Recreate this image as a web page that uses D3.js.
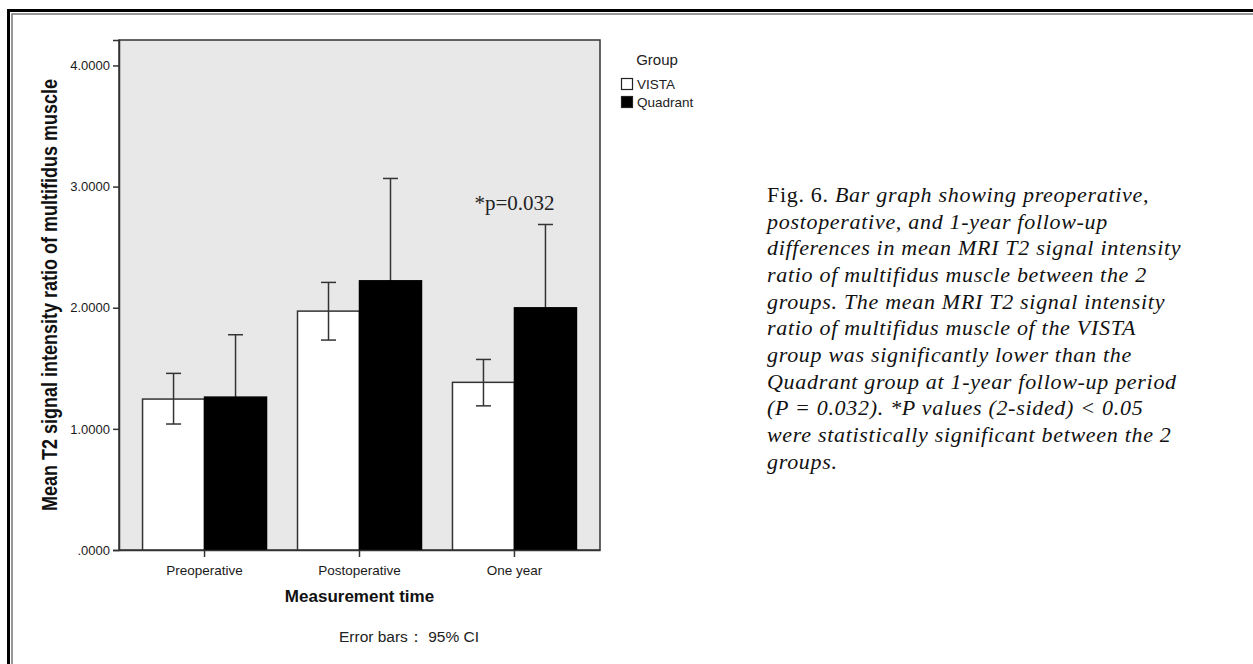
<!DOCTYPE html>
<html>
<head>
<meta charset="utf-8">
<script src="https://cdn.jsdelivr.net/npm/d3@7"></script>
<style>
  html, body { margin: 0; padding: 0; background: #fff; }
  svg { display: block; }
</style>
</head>
<body>
<div class="chart"></div>
<script>
// data
var categories = ["Preoperative", "Postoperative", "One year"];
var groups = ["VISTA", "Quadrant"];
var vistaMean  = [1.246, 1.972, 1.384];
var vistaLower = [1.040, 1.733, 1.190];
var vistaUpper = [1.458, 2.209, 1.573];
var quadMean   = [1.262, 2.222, 1.999];
var quadLower  = [0.747, 1.377, 1.311];
var quadUpper  = [1.777, 3.067, 2.687];
var yTicks = [0, 1, 2, 3, 4];
var captionLines = [
  "postoperative, and 1-year follow-up",
  "differences in mean MRI T2 signal intensity",
  "ratio of  multifidus muscle between the 2",
  "groups. The mean MRI T2 signal intensity",
  "ratio of  multifidus muscle of the VISTA",
  "group was significantly lower than the",
  "Quadrant group at 1-year follow-up period",
  "(P = 0.032). *P values (2-sided) < 0.05",
  "were statistically significant between the 2",
  "groups."
];

var width = 1253, height = 664;
var margin = { "top": 40, "bottom": 114, "left": 119, "right": 653 };
var sans = "'Liberation Sans', Arial, sans-serif";
var serif = "'Liberation Serif', 'Times New Roman', serif";

var svg = d3.select("div.chart").append("svg").attr("width", width).attr("height", height);

// outer frame (double line, top and left)
svg.append("path").attr("d", "M8.5,664 V10.5 H1253").attr("fill", "none").attr("stroke", "#000").attr("stroke-width", 3);
svg.append("path").attr("d", "M12,664 V14 H1253").attr("fill", "none").attr("stroke", "#777").attr("stroke-width", 1.5);

var x0 = d3.scaleBand().domain(categories)
  .range([margin.left, width - margin.right])
  .paddingInner(0.2).paddingOuter(0.152);
var x1 = d3.scaleBand().domain(groups).range([0, x0.bandwidth()]);
var yScale = d3.scaleLinear().domain([0, 4.21]).range([height - margin.bottom, margin.top]);

// plot background
svg.append("rect")
  .attr("x", margin.left).attr("y", margin.top)
  .attr("width", width - margin.left - margin.right)
  .attr("height", height - margin.top - margin.bottom)
  .attr("fill", "#e8e8e8").attr("stroke", "#333").attr("stroke-width", 1.5);

var rows = categories.map(function(c, i) {
  return [
    { cat: c, grp: "VISTA", mean: vistaMean[i], lo: vistaLower[i], hi: vistaUpper[i] },
    { cat: c, grp: "Quadrant", mean: quadMean[i], lo: quadLower[i], hi: quadUpper[i] }
  ];
});
var flat = [].concat.apply([], rows);
var fill = { "VISTA": "#fff", "Quadrant": "#000" };

function errorBar(g, d) {
  var cx = x0(d.cat) + x1(d.grp) + x1.bandwidth() / 2;
  g.append("line").attr("x1", cx).attr("x2", cx).attr("y1", yScale(d.lo)).attr("y2", yScale(d.hi));
  g.append("line").attr("x1", cx - 7.5).attr("x2", cx + 7.5).attr("y1", yScale(d.hi)).attr("y2", yScale(d.hi));
  g.append("line").attr("x1", cx - 7.5).attr("x2", cx + 7.5).attr("y1", yScale(d.lo)).attr("y2", yScale(d.lo));
}

// quadrant whiskers go under the black bars, so only the part above shows
var ebBack = svg.append("g").attr("stroke", "#333").attr("stroke-width", 1.5);
flat.filter(function(d) { return d.grp == "Quadrant"; }).forEach(function(d) { errorBar(ebBack, d); });

svg.append("g").selectAll("rect")
  .data(flat).enter().append("rect")
  .attr("x", function(d) { return x0(d.cat) + x1(d.grp); })
  .attr("y", function(d) { return yScale(d.mean); })
  .attr("width", x1.bandwidth())
  .attr("height", function(d) { return yScale(0) - yScale(d.mean); })
  .attr("fill", function(d) { return fill[d.grp]; })
  .attr("stroke", function(d) { return d.grp == "VISTA" ? "#333" : "#000"; })
  .attr("stroke-width", 1.5);

var ebFront = svg.append("g").attr("stroke", "#333").attr("stroke-width", 1.5);
flat.filter(function(d) { return d.grp == "VISTA"; }).forEach(function(d) { errorBar(ebFront, d); });

// axes
var axisy = d3.axisLeft(yScale).tickValues(yTicks).tickSize(6).tickPadding(3)
  .tickFormat(function(d) { return d3.format(".4f")(d).replace(/^0/, ""); });
var gy = svg.append("g").attr("transform", "translate(" + margin.left + ",0)").call(axisy);
gy.select(".domain").attr("stroke", "#333").attr("stroke-width", 1.5);
gy.selectAll(".tick line").attr("stroke", "#333").attr("stroke-width", 1.5);
gy.selectAll(".tick text").attr("font-family", sans).attr("font-size", "13px").attr("fill", "#1a1a1a");

var axisx = d3.axisBottom(x0).tickSize(7).tickPadding(8).tickSizeOuter(0);
var gx = svg.append("g").attr("transform", "translate(0," + (height - margin.bottom) + ")").call(axisx);
gx.select(".domain").attr("stroke", "#333").attr("stroke-width", 1.5);
gx.selectAll(".tick line").attr("stroke", "#333").attr("stroke-width", 1.5);
gx.selectAll(".tick text").attr("font-family", sans).attr("font-size", "13.5px").attr("fill", "#1a1a1a");

// axis titles
svg.append("text")
  .attr("x", (margin.left + width - margin.right) / 2).attr("y", 602)
  .attr("text-anchor", "middle").attr("font-family", sans).attr("font-weight", "bold")
  .attr("font-size", "17px").attr("fill", "#111")
  .text("Measurement time");

svg.append("text")
  .attr("transform", "translate(57," + ((margin.top + height - margin.bottom) / 2) + ") rotate(-90) scale(1,1.2)")
  .attr("text-anchor", "middle").attr("font-family", sans).attr("font-weight", "bold")
  .attr("font-size", "18px").attr("fill", "#111")
  .text("Mean T2 signal intensity ratio of multifidus muscle");

svg.append("text")
  .attr("x", 409).attr("y", 642)
  .attr("text-anchor", "middle").attr("font-family", sans)
  .attr("font-size", "15.5px").attr("fill", "#222")
  .text("Error bars\uFF1A 95% CI");

// significance note, centred over the one-year pair
svg.append("text")
  .attr("x", x0("One year") + x0.bandwidth() / 2).attr("y", 210)
  .attr("text-anchor", "middle").attr("font-family", serif)
  .attr("font-size", "21px").attr("fill", "#222")
  .text("*p=0.032");

// legend
var lg = svg.append("g").attr("font-family", sans).attr("fill", "#222");
lg.append("text").attr("x", 657).attr("y", 65).attr("text-anchor", "middle").attr("font-size", "15px").text("Group");
groups.forEach(function(g, i) {
  lg.append("rect").attr("x", 621.5).attr("y", 78.5 + i * 18).attr("width", 11).attr("height", 11)
    .attr("fill", fill[g]).attr("stroke", "#222").attr("stroke-width", 1.2);
  lg.append("text").attr("x", 637).attr("y", 89 + i * 18).attr("font-size", "13.5px").text(g);
});

// caption
var cap = svg.append("text").attr("font-family", serif).attr("font-size", "22px")
  .attr("fill", "#111").attr("letter-spacing", "0.7px");
var first = cap.append("tspan").attr("x", 767).attr("y", 202);
first.append("tspan").text("Fig. 6. ");
first.append("tspan").attr("font-style", "italic").text("Bar graph showing preoperative,");
captionLines.forEach(function(t, i) {
  cap.append("tspan").attr("x", 767).attr("y", 202 + (i + 1) * 26.67)
    .attr("font-style", "italic").text(t);
});
</script>
</body>
</html>
